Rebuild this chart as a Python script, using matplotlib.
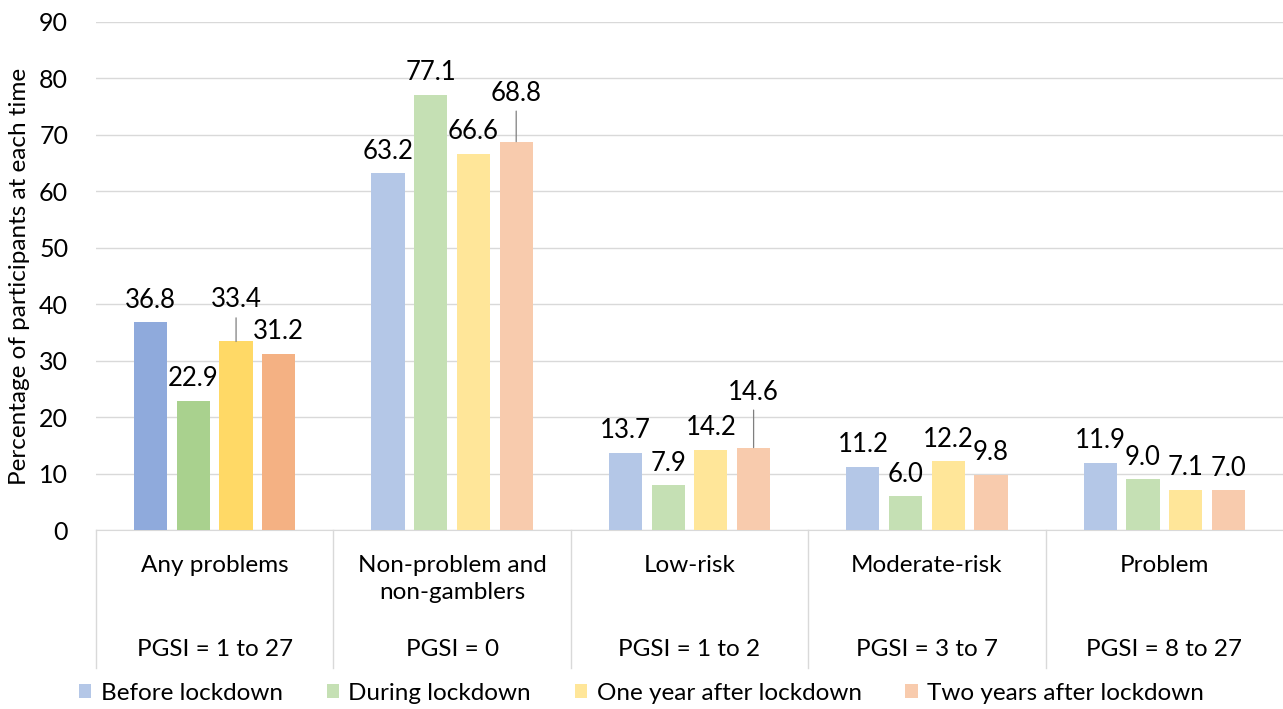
import matplotlib
matplotlib.use("Agg")
import matplotlib.pyplot as plt
from matplotlib.patches import Patch
import numpy as np

categories = ["Any problems", "Non-problem and\nnon-gamblers", "Low-risk", "Moderate-risk", "Problem"]
pgsi = ["PGSI = 1 to 27", "PGSI = 0", "PGSI = 1 to 2", "PGSI = 3 to 7", "PGSI = 8 to 27"]
series = ["Before lockdown", "During lockdown", "One year after lockdown", "Two years after lockdown"]
before = [36.8, 63.2, 13.7, 11.2, 11.9]
during = [22.9, 77.1, 7.9, 6.0, 9.0]
one_year = [33.4, 66.6, 14.2, 12.2, 7.1]
two_years = [31.2, 68.8, 14.6, 9.8, 7.0]
values = [before, during, one_year, two_years]

dark_colors = ["#8FAADC", "#A9D18E", "#FFD966", "#F4B183"]
light_colors = ["#B4C7E7", "#C5E0B4", "#FFE699", "#F8CBAD"]

# labels pulled up with leader lines: (series, category) -> (baseline offset pt, leader length pt)
raised = {(2, 0): (24.5, 17), (3, 1): (29, 22), (3, 2): (34, 27)}

FONT = "Lato"
plt.rcParams["font.family"] = [FONT, "DejaVu Sans"]

fig = plt.figure(figsize=(12.83, 7.09), dpi=100)
ax = fig.add_axes([96/1283, 1 - 530/709, 1 - 96/1283, (530 - 22)/709])

x = np.arange(len(categories))
step = 0.18
width = 0.14
for si, vals in enumerate(values):
    offs = (si - 1.5) * step
    cols = [dark_colors[si] if ci == 0 else light_colors[si] for ci in range(len(categories))]
    bars = ax.bar(x + offs, vals, width, color=cols, zorder=3)
    for ci, (b, v) in enumerate(zip(bars, vals)):
        cx = b.get_x() + b.get_width() / 2
        base, leader = raised.get((si, ci), (10.5, 0))
        ax.annotate(f"{v:.1f}", xy=(cx, v), xytext=(0, base), textcoords="offset points",
                    ha="center", va="baseline", fontsize=18.5, color="black", zorder=4)
        if leader:
            ax.annotate("", xy=(cx, v), xytext=(0, leader), textcoords="offset points",
                        arrowprops=dict(arrowstyle="-", color="#7F7F7F", lw=0.9,
                                        shrinkA=0, shrinkB=0), zorder=4)

ax.set_xlim(-0.5, 4.5)
ax.set_ylim(0, 90)
ax.set_yticks(np.arange(0, 91, 10))
ax.tick_params(axis="y", length=0, labelsize=18, pad=20)
ax.tick_params(axis="x", length=0, labelbottom=False)
ax.yaxis.grid(True, color="#D9D9D9", lw=1, zorder=0)
for s in ["top", "right", "left"]:
    ax.spines[s].set_visible(False)
ax.spines["bottom"].set_color("#D9D9D9")
ax.set_ylabel("Percentage of participants at each time", fontsize=17.5)
ax.yaxis.label.set_va("center")
ax.yaxis.set_label_coords((20 - 96) / 1187, 0.5)

trans = ax.get_xaxis_transform()
depth = (668 - 530) / 508
for xb in np.arange(-0.5, 4.0, 1.0):
    ax.plot([xb, xb], [0, -depth], transform=trans, color="#D9D9D9", lw=1, clip_on=False)

for ci, (c, p) in enumerate(zip(categories, pgsi)):
    for li, line in enumerate(c.split("\n")):
        ax.annotate(line, xy=(ci, -(565 - 530) / 508), xycoords=trans,
                    xytext=(0, -li * 19.5), textcoords="offset points",
                    ha="center", va="center", fontsize=17.5)
    ax.text(ci, -(649 - 530) / 508, p, transform=trans, ha="center", va="center", fontsize=17.5)

handles = [Patch(facecolor=light_colors[i], edgecolor="none") for i in range(4)]
fig.legend(handles, series, loc="center", bbox_to_anchor=(0.5, 1 - 693/709), ncol=4,
           frameon=False, fontsize=17.5, handlelength=0.5, handleheight=0.5,
           handletextpad=0.4, columnspacing=1.8, borderpad=0, borderaxespad=0)

fig.savefig("out.png", dpi=100)
